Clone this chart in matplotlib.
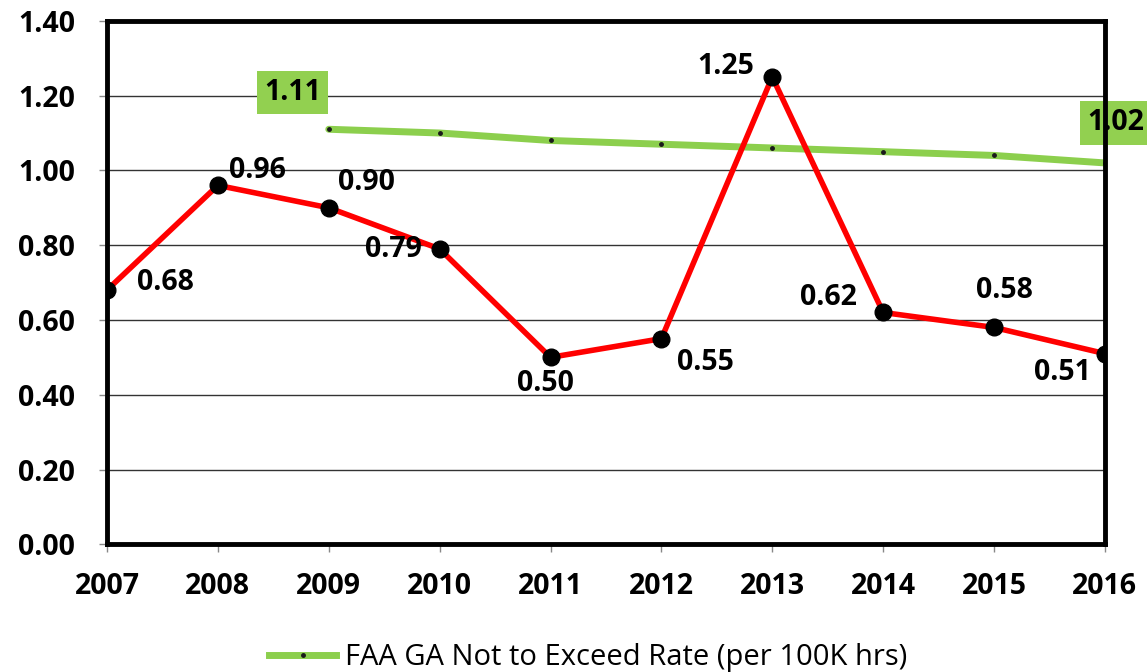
import matplotlib
matplotlib.use("Agg")
import matplotlib.pyplot as plt
from matplotlib.lines import Line2D

years = [2007, 2008, 2009, 2010, 2011, 2012, 2013, 2014, 2015, 2016]
actual_rate = [0.68, 0.96, 0.90, 0.79, 0.50, 0.55, 1.25, 0.62, 0.58, 0.51]
faa_years = [2009, 2010, 2011, 2012, 2013, 2014, 2015, 2016]
faa_rate = [1.11, 1.10, 1.08, 1.07, 1.06, 1.05, 1.04, 1.02]
y_ticks = [0.00, 0.20, 0.40, 0.60, 0.80, 1.00, 1.20, 1.40]
legend_label = "FAA GA Not to Exceed Rate (per 100K hrs)"

FONT = "Open Sans"
GREEN = "#8CCF4D"
BOXGREEN = "#92D050"
FS = 20.5

fig = plt.figure(figsize=(11.47, 6.72), dpi=100)
ax = fig.add_axes([0.0933, 0.190, 0.870, 0.779])

for y in y_ticks[1:]:
    ax.axhline(y, color="#333333", lw=1.0, zorder=1)

ax.plot(faa_years, faa_rate, color=GREEN, lw=5, zorder=3, solid_capstyle="round")
ax.plot(faa_years, faa_rate, ls="none", marker="o", ms=2.5, color="#1a1a1a", zorder=4)

ax.plot(years, actual_rate, color="#FF0000", lw=4, zorder=5)
ax.plot(years, actual_rate, ls="none", marker="o", ms=12, color="black", zorder=6)

# data label offsets (pixels, y up)
offsets = [(58, 8), (40, 15), (38, 25), (-46, -1), (-5, -26),
           (44, -24), (-46, 10), (-55, 15), (10, 37), (-42, -19)]
for x, y, (dx, dy) in zip(years, actual_rate, offsets):
    ax.annotate(f"{y:.2f}", (x, y), xytext=(dx * 0.72, dy * 0.72),
                textcoords="offset points", ha="center", va="center",
                fontsize=FS, fontweight="bold", family=FONT, color="black", zorder=7)

# green boxed labels for first and last FAA values
box = dict(boxstyle="square,pad=0.25", fc=BOXGREEN, ec="none")
ax.annotate(f"{faa_rate[0]:.2f}", (faa_years[0], faa_rate[0]), xytext=(-36 * 0.72, 37 * 0.72),
            textcoords="offset points", ha="center", va="center", fontsize=FS,
            fontweight="bold", family=FONT, bbox=box, zorder=8, annotation_clip=False)
ax.annotate(f"{faa_rate[-1]:.2f}", (faa_years[-1], faa_rate[-1]), xytext=(-18 * 0.72, 40 * 0.72),
            textcoords="offset points", ha="left", va="center", fontsize=FS,
            fontweight="bold", family=FONT, bbox=box, zorder=8, annotation_clip=False)

ax.set_xlim(years[0], years[-1])
ax.set_ylim(0, 1.40)
ax.set_yticks(y_ticks)
ax.set_yticklabels([f"{v:.2f}" for v in y_ticks])
ax.set_xticks(years)
ax.set_xticklabels([str(y) for y in years])
for lab in ax.get_xticklabels() + ax.get_yticklabels():
    lab.set_fontfamily(FONT)
    lab.set_fontweight("bold")
    lab.set_fontsize(FS)
ax.tick_params(axis="both", direction="out", length=6, width=1, color="#888888")
ax.tick_params(axis="y", pad=17)
ax.tick_params(axis="x", pad=14)

for s in ax.spines.values():
    s.set_linewidth(3.5)
    s.set_color("black")
    s.set_zorder(10)

handle = Line2D([0], [0], color=GREEN, lw=5, marker="o", ms=2.5,
                markerfacecolor="#1a1a1a", markeredgecolor="#1a1a1a")
fig.legend([handle], [legend_label], loc="center", bbox_to_anchor=(0.513, 0.022),
           frameon=False, prop={"family": FONT, "size": 21}, handlelength=2.3,
           handletextpad=0.3)

fig.savefig("out.png", dpi=100)
